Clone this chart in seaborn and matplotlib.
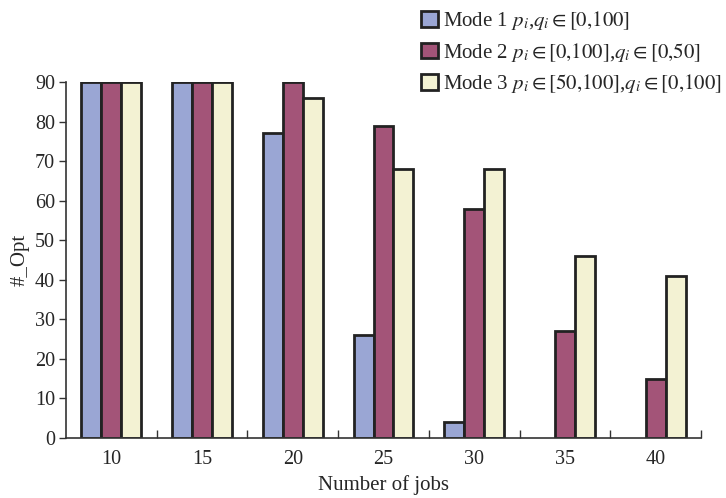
import matplotlib
matplotlib.use("Agg")
import matplotlib.pyplot as plt
import seaborn as sns
import pandas as pd
import numpy as np

jobs = ["10", "15", "20", "25", "30", "35", "40"]
mode_labels = [
    r"Mode 1 $p_i$,$q_i\in[0{,}100]$",
    r"Mode 2 $p_i\in[0{,}100]$,$q_i\in[0{,}50]$",
    r"Mode 3 $p_i\in[50{,}100]$,$q_i\in[0{,}100]$",
]
mode1 = [90, 90, 77, 26, 4, 0, 0]
mode2 = [90, 90, 90, 79, 58, 27, 15]
mode3 = [90, 90, 86, 68, 68, 46, 41]
colors = ["#9aa6d4", "#a35478", "#f3f2d3"]

rows = []
for label, vals in zip(mode_labels, [mode1, mode2, mode3]):
    for j, v in zip(jobs, vals):
        rows.append({"jobs": j, "opt": v, "mode": label})
df = pd.DataFrame(rows)

sns.set_style("white")
plt.rcParams["font.family"] = ["Liberation Serif", "DejaVu Serif"]
plt.rcParams["mathtext.fontset"] = "stix"

fig = plt.figure(figsize=(7.26, 4.98), dpi=100)
ax = fig.add_axes([66 / 726, 1 - 438 / 498, (701 - 66) / 726, (438 - 82) / 498])

sns.barplot(data=df, x="jobs", y="opt", hue="mode", order=jobs,
            hue_order=mode_labels, palette=colors, width=0.66,
            edgecolor="#222222", linewidth=2.0, saturation=1, ax=ax)

# empty bars leave no outline on the axis line
for container in ax.containers:
    for bar in container:
        if bar.get_height() == 0:
            bar.set_linewidth(0)

ax.set_ylim(0, 90)
ax.set_xlim(-0.5, len(jobs) - 0.5)
ax.set_yticks(np.arange(0, 91, 10))
ax.tick_params(axis="y", which="major", direction="out", length=5, width=1,
               color="#333333", labelsize=14.5, pad=3, left=True)
# category labels at group centres, short ticks at group boundaries
ax.set_xticks(range(len(jobs)))
ax.set_xticklabels(jobs)
ax.tick_params(axis="x", which="major", length=0, labelsize=14.5, pad=9)
ax.set_xticks(np.arange(0.5, len(jobs) - 0.4, 1.0), minor=True)
ax.tick_params(axis="x", which="minor", direction="in", length=6, width=1,
               color="#333333", bottom=True)

for side in ["top", "right"]:
    ax.spines[side].set_visible(False)
for side in ["left", "bottom"]:
    ax.spines[side].set_color("#333333")
    ax.spines[side].set_linewidth(1.2)

ax.set_xlabel("Number of jobs", fontsize=15, labelpad=4)
ax.set_ylabel("#_Opt", fontsize=15, labelpad=4)

handles, labels = ax.get_legend_handles_labels()
for h in handles:
    h.set_edgecolor("#222222")
    h.set_linewidth(2.0)
ax.legend(handles, labels, loc="upper left", bbox_to_anchor=(412 / 726, 1.0),
          bbox_transform=fig.transFigure, frameon=False, fontsize=15,
          handlelength=0.78, handleheight=0.78, handletextpad=0.25,
          labelspacing=0.4, borderaxespad=0.05)

fig.savefig("out.png", dpi=100)
